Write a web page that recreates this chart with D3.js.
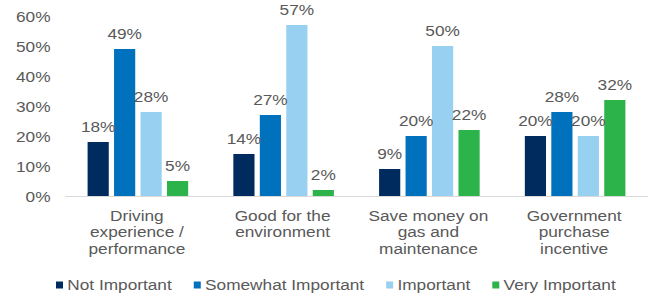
<!DOCTYPE html>
<html>
<head>
<meta charset="utf-8">
<script src="https://cdn.jsdelivr.net/npm/d3@7"></script>
<style>
  html, body { margin: 0; padding: 0; background: #fff; }
  svg { display: block; font-family: "Liberation Sans", Arial, sans-serif; }
</style>
</head>
<body>
<svg id="chart" width="654" height="299"></svg>
<script>
const categories = [
  ["Driving", "experience /", "performance"],
  ["Good for the", "environment"],
  ["Save money on", "gas and", "maintenance"],
  ["Government", "purchase", "incentive"]
];
const seriesNames = ["Not Important", "Somewhat Important", "Important", "Very Important"];
const seriesColors = ["#002B5E", "#0071BC", "#97D0F0", "#2CB34A"];
const notImportant = [18, 14, 9, 20];
const somewhatImportant = [49, 27, 20, 28];
const important = [28, 57, 50, 20];
const veryImportant = [5, 2, 22, 32];
const yTicks = [0, 10, 20, 30, 40, 50, 60];

const seriesValues = [notImportant, somewhatImportant, important, veryImportant];
const catKeys = categories.map((c, i) => i);

const svg = d3.select("#chart");
const textColor = "#595959";
const FS = 15;      // font size
const SX = 1.15;    // horizontal stretch of the text in the reference

function stretchedText(parent, x, y, anchor, str) {
  const g = parent.append("g").attr("transform", `translate(${x},${y}) scale(${SX},1)`);
  const t = g.append("text")
    .attr("x", 0).attr("y", 0)
    .attr("text-anchor", anchor)
    .attr("fill", textColor)
    .style("font-size", FS + "px")
    .text(str);
  return t;
}

const x0 = d3.scaleBand().domain(catKeys).range([65, 648]).paddingInner(0.31).paddingOuter(0.155);
const x1 = d3.scaleBand().domain(d3.range(seriesNames.length)).range([0, x0.bandwidth()]).paddingInner(0.2);
const y = d3.scaleLinear().domain([0, 60]).range([196, 16]);

// y axis labels (rendered via axis generator for tick positions)
const yAxis = d3.axisLeft(y).tickValues(yTicks).tickFormat(d => d + "%").tickSize(0).tickPadding(0);
const gy = svg.append("g").attr("transform", "translate(50.5,0)").call(yAxis);
gy.select(".domain").remove();
gy.selectAll(".tick text")
  .attr("fill", textColor)
  .attr("transform", `scale(${SX},1)`)
  .style("font-size", FS + "px")
  .style("font-family", "'Liberation Sans', Arial, sans-serif")
  .attr("dy", "0.35em");

// baseline
svg.append("line")
  .attr("x1", 65).attr("x2", 648)
  .attr("y1", y(0) + 0.5).attr("y2", y(0) + 0.5)
  .attr("stroke", "#d9d9d9").attr("stroke-width", 1);

// bars
const groups = svg.append("g").selectAll("g")
  .data(catKeys).join("g")
  .attr("transform", d => `translate(${x0(d)},0)`);

groups.selectAll("rect")
  .data(ci => seriesValues.map((vals, si) => ({ si, v: vals[ci] })))
  .join("rect")
  .attr("x", d => x1(d.si))
  .attr("y", d => y(d.v))
  .attr("width", x1.bandwidth())
  .attr("height", d => y(0) - y(d.v))
  .attr("fill", d => seriesColors[d.si]);

groups.each(function(ci) {
  const g = d3.select(this);
  seriesValues.forEach((vals, si) => {
    stretchedText(g, x1(si) + x1.bandwidth() / 2, y(vals[ci]) - 10, "middle", vals[ci] + "%");
  });
});

// category labels
const xAxisG = svg.append("g");
categories.forEach((lines, ci) => {
  lines.forEach((ln, li) => {
    stretchedText(xAxisG, x0(ci) + x0.bandwidth() / 2 - 1, 221 + li * 16.3, "middle", ln);
  });
});

// legend
const legend = svg.append("g");
let lx = 56;
seriesNames.forEach((name, i) => {
  legend.append("rect")
    .attr("x", lx).attr("y", 281.5)
    .attr("width", 7).attr("height", 7)
    .attr("fill", seriesColors[i]);
  const t = stretchedText(legend, lx + 11.3, 289.5, "start", name);
  lx += 11.3 + t.node().getComputedTextLength() * SX + 22;
});
</script>
</body>
</html>
